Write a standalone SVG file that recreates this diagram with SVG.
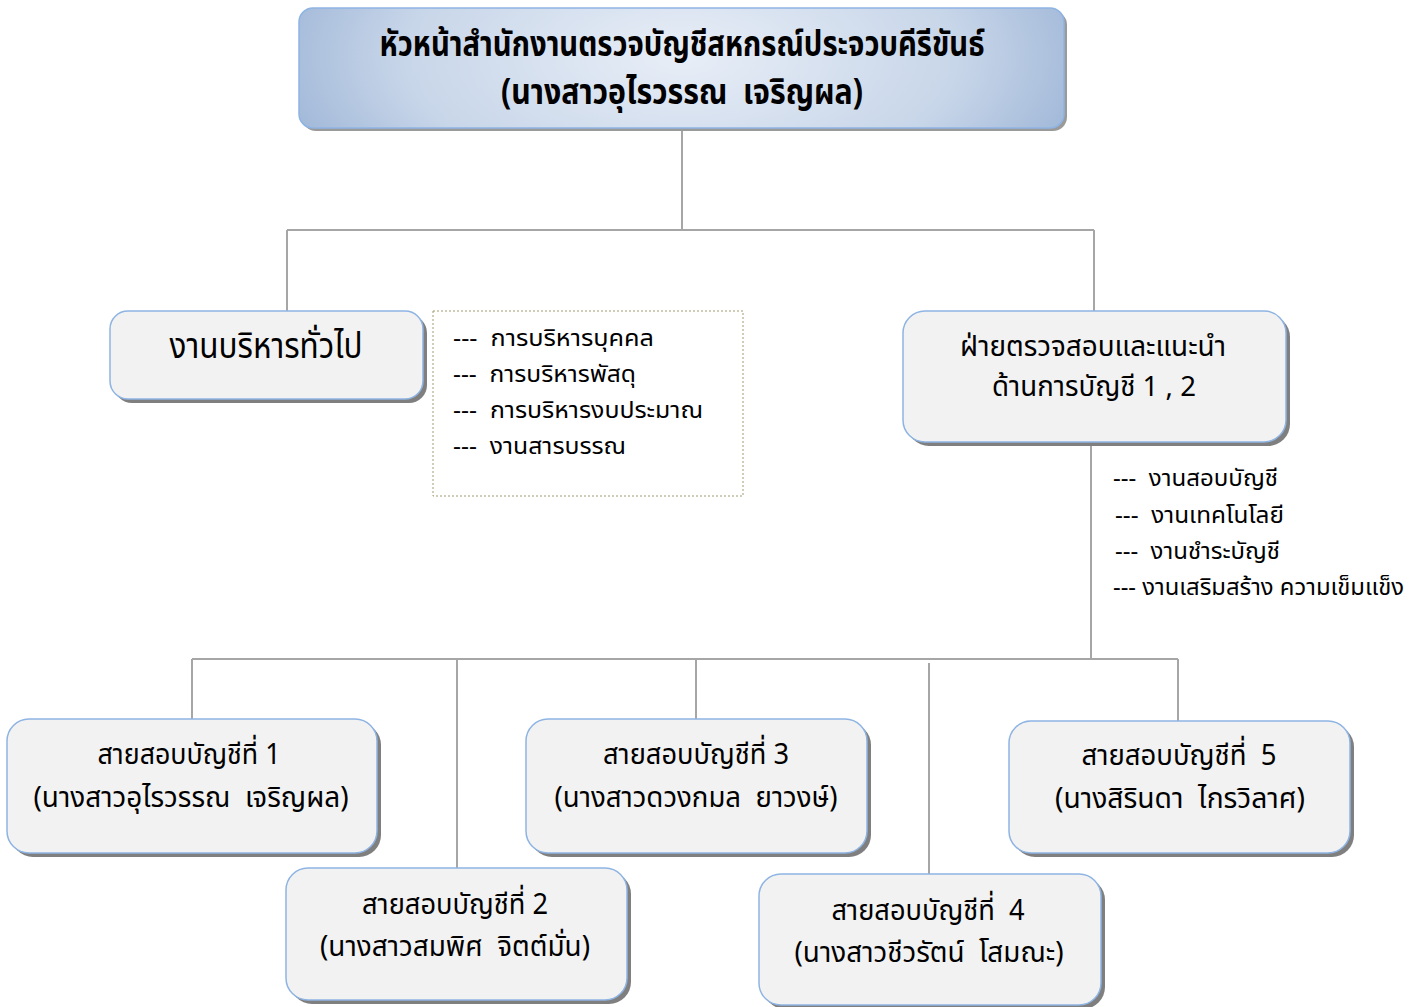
<svg xmlns="http://www.w3.org/2000/svg" width="1419" height="1007" viewBox="0 0 1419 1007">
<style>
text{font-family:"Noto Sans Thai","Noto Sans","DejaVu Sans",sans-serif;fill:#000;white-space:pre}
.box{fill:#f2f2f2;stroke:#8eb4e3;stroke-width:1.5}
.sh{fill:#7f7f7f}
.t{font-size:29px;text-anchor:middle}
.l{font-size:23px}
.c{fill:none;stroke:#a6a6a6;stroke-width:2}
</style>
<defs>
<radialGradient id="g" cx="0.5" cy="0.4" r="0.6" gradientTransform="translate(0.5 0.4) scale(1 3) translate(-0.5 -0.4)">
<stop offset="0" stop-color="#e8eef7"/>
<stop offset="0.6" stop-color="#c8d6e9"/>
<stop offset="1" stop-color="#94aed3"/>
</radialGradient>
</defs>
<g id="connectors">
<path class="c" d="M682 128V230M287 230H1094M287 230V312M1094 230V312"/>
<path class="c" d="M1091 442V659M192 659H1178M192 659V719M457 659V868M696 659V719M929 663V874M1178 659V721"/>
</g>
<g id="head">
<rect x="302" y="11" width="765" height="120" rx="14" fill="#9a9a9a"/>
<rect x="299" y="8" width="765" height="120" rx="14" fill="url(#g)" stroke="#8eb4e3" stroke-width="1.5"/>
<text x="682" y="56" font-size="35" font-weight="bold" text-anchor="middle" textLength="605" lengthAdjust="spacingAndGlyphs">หัวหน้าสำนักงานตรวจบัญชีสหกรณ์ประจวบคีรีขันธ์</text>
<text x="682" y="104" font-size="35" font-weight="bold" text-anchor="middle" textLength="362" lengthAdjust="spacingAndGlyphs">(นางสาวอุไรวรรณ  เจริญผล)</text>
</g>
<g id="general">
<rect class="sh" x="114" y="315" width="313" height="88" rx="18"/>
<rect class="box" x="110" y="311" width="313" height="88" rx="18"/>
<text x="266" y="358" font-size="35" text-anchor="middle" textLength="193" lengthAdjust="spacingAndGlyphs">งานบริหารทั่วไป</text>
</g>
<g id="general-tasks">
<rect x="433" y="311" width="310" height="185" fill="#fff" stroke="#a09a70" stroke-width="1" stroke-dasharray="2 2"/>
<text class="l" x="453" y="346" textLength="201" lengthAdjust="spacingAndGlyphs">---  การบริหารบุคคล</text>
<text class="l" x="453" y="382" textLength="183" lengthAdjust="spacingAndGlyphs">---  การบริหารพัสดุ</text>
<text class="l" x="453" y="418" textLength="250" lengthAdjust="spacingAndGlyphs">---  การบริหารงบประมาณ</text>
<text class="l" x="453" y="454" textLength="173" lengthAdjust="spacingAndGlyphs">---  งานสารบรรณ</text>
</g>
<g id="audit">
<rect class="sh" x="907" y="315" width="383" height="131" rx="22"/>
<rect class="box" x="903" y="311" width="383" height="131" rx="22"/>
<text x="1093" y="356" font-size="28" text-anchor="middle" textLength="266" lengthAdjust="spacingAndGlyphs">ฝ่ายตรวจสอบและแนะนำ</text>
<text x="1094" y="396" font-size="28" text-anchor="middle" textLength="204" lengthAdjust="spacingAndGlyphs">ด้านการบัญชี 1 , 2</text>
</g>
<g id="audit-tasks">
<text class="l" x="1113" y="486" textLength="165" lengthAdjust="spacingAndGlyphs">---  งานสอบบัญชี</text>
<text class="l" x="1115" y="523" textLength="169" lengthAdjust="spacingAndGlyphs">---  งานเทคโนโลยี</text>
<text class="l" x="1115" y="559" textLength="165" lengthAdjust="spacingAndGlyphs">---  งานชำระบัญชี</text>
<text class="l" x="1113" y="595" textLength="291" lengthAdjust="spacingAndGlyphs">--- งานเสริมสร้าง ความเข็มแข็ง</text>
</g>
<g id="line1">
<rect class="sh" x="11" y="723" width="370" height="134" rx="22"/>
<rect class="box" x="7" y="719" width="370" height="134" rx="22"/>
<text class="t" x="189" y="764" textLength="183" lengthAdjust="spacingAndGlyphs">สายสอบบัญชีที่ 1</text>
<text class="t" x="191" y="807" textLength="315" lengthAdjust="spacingAndGlyphs">(นางสาวอุไรวรรณ  เจริญผล)</text>
</g>
<g id="line2">
<rect class="sh" x="290" y="872" width="341" height="132" rx="22"/>
<rect class="box" x="286" y="868" width="341" height="132" rx="22"/>
<text class="t" x="455" y="914" textLength="186" lengthAdjust="spacingAndGlyphs">สายสอบบัญชีที่ 2</text>
<text class="t" x="455" y="956" textLength="270" lengthAdjust="spacingAndGlyphs">(นางสาวสมพิศ  จิตต์มั่น)</text>
</g>
<g id="line3">
<rect class="sh" x="530" y="723" width="341" height="134" rx="22"/>
<rect class="box" x="526" y="719" width="341" height="134" rx="22"/>
<text class="t" x="696" y="764" textLength="186" lengthAdjust="spacingAndGlyphs">สายสอบบัญชีที่ 3</text>
<text class="t" x="696" y="807" textLength="283" lengthAdjust="spacingAndGlyphs">(นางสาวดวงกมล  ยาวงษ์)</text>
</g>
<g id="line4">
<rect class="sh" x="763" y="878" width="342" height="131" rx="22"/>
<rect class="box" x="759" y="874" width="342" height="131" rx="22"/>
<text class="t" x="928" y="920" textLength="193" lengthAdjust="spacingAndGlyphs">สายสอบบัญชีที่  4</text>
<text class="t" x="929" y="962" textLength="269" lengthAdjust="spacingAndGlyphs">(นางสาวชีวรัตน์  โสมณะ)</text>
</g>
<g id="line5">
<rect class="sh" x="1013" y="725" width="341" height="132" rx="22"/>
<rect class="box" x="1009" y="721" width="341" height="132" rx="22"/>
<text class="t" x="1179" y="765" textLength="195" lengthAdjust="spacingAndGlyphs">สายสอบบัญชีที่  5</text>
<text class="t" x="1180" y="808" textLength="250" lengthAdjust="spacingAndGlyphs">(นางสิรินดา  ไกรวิลาศ)</text>
</g>
</svg>
